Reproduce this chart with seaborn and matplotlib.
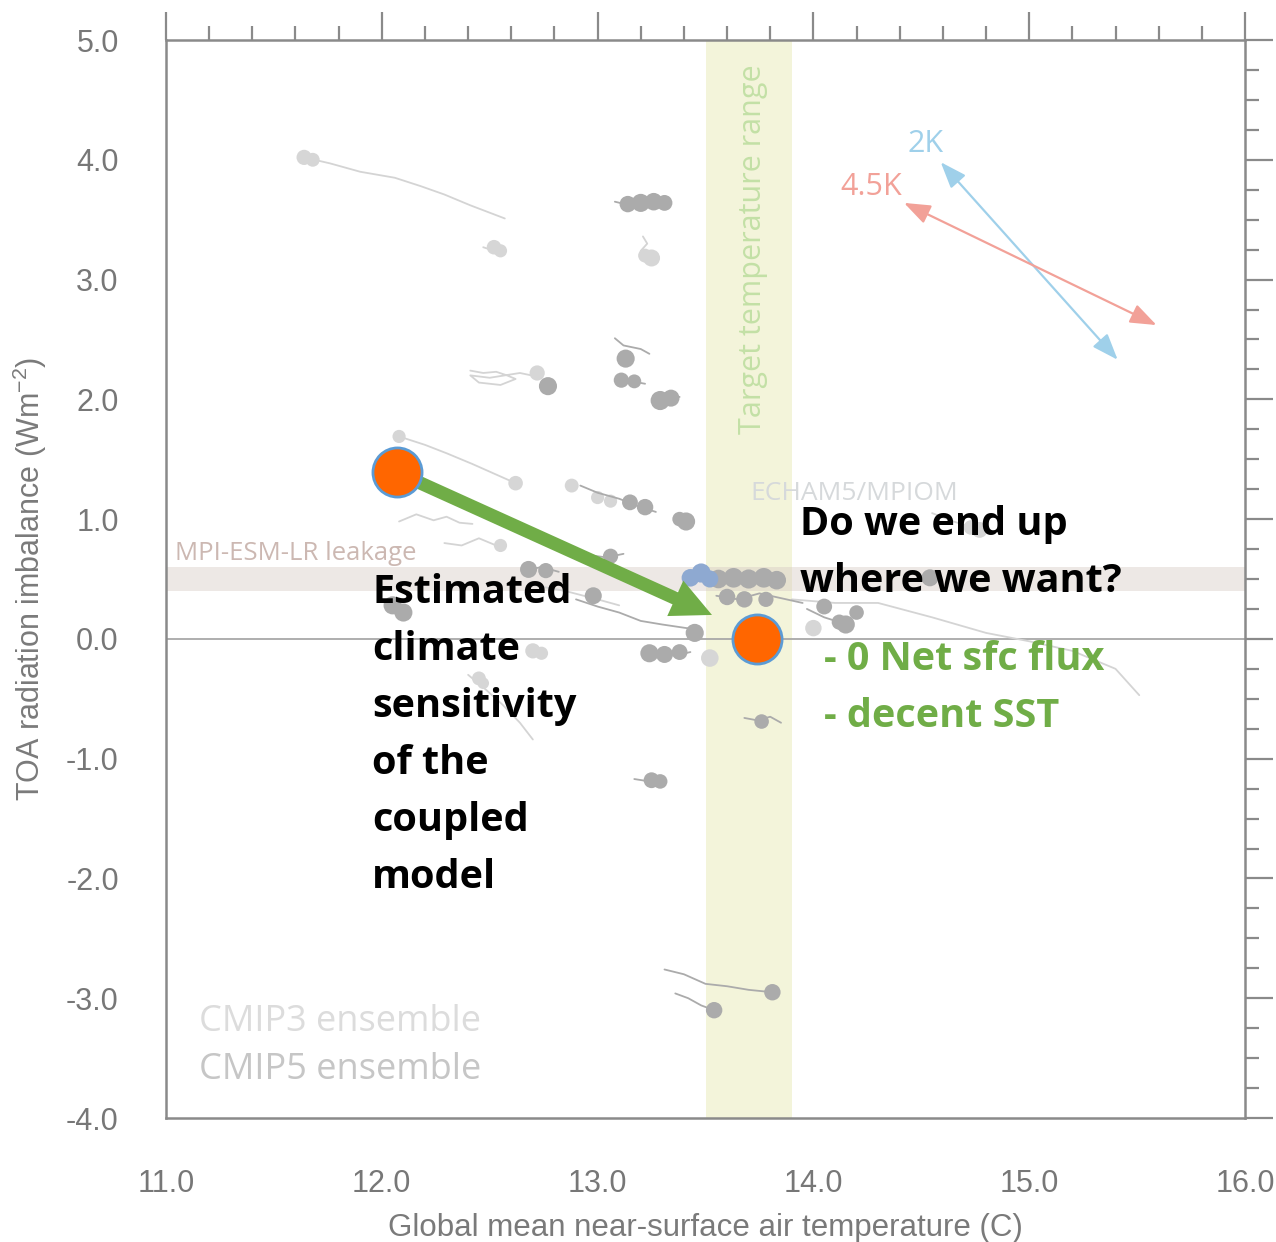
import numpy as np
import pandas as pd
import seaborn as sns
from matplotlib import pyplot as plt
from matplotlib.ticker import MultipleLocator

# ---- data ----
# CMIP3 ensemble: light grey trajectories (x = temperature, y = TOA imbalance)
cmip3_x = [
    [11.64, 11.76, 11.90, 12.06, 12.18, 12.29, 12.41, 12.57],
    [12.47, 12.52, 12.56],
    [13.21, 13.23, 13.20, 13.25, 13.27],
    [12.41, 12.47, 12.53, 12.58, 12.62, 12.55, 12.45, 12.41, 12.50, 12.64, 12.72],
    [12.08, 12.20, 12.30, 12.42, 12.52, 12.62],
    [12.08, 12.16, 12.24, 12.30, 12.36, 12.42],
    [12.29, 12.37, 12.45, 12.53, 12.56],
    [13.90, 14.10, 14.30, 14.55, 14.80, 15.00, 15.20, 15.40, 15.51],
    [14.55, 14.65, 14.77],
    [12.40, 12.48, 12.56, 12.64, 12.70],
    [12.70, 12.85, 13.00, 13.10],
]
cmip3_y = [
    [4.02, 3.97, 3.90, 3.85, 3.78, 3.71, 3.62, 3.51],
    [3.27, 3.24, 3.26],
    [3.36, 3.30, 3.24, 3.19, 3.17],
    [2.24, 2.22, 2.23, 2.20, 2.17, 2.12, 2.14, 2.20, 2.18, 2.22, 2.19],
    [1.69, 1.62, 1.55, 1.46, 1.38, 1.30],
    [0.98, 1.04, 0.99, 1.02, 0.97, 0.96],
    [0.80, 0.78, 0.84, 0.78, 0.77],
    [0.33, 0.30, 0.30, 0.18, 0.05, -0.02, -0.10, -0.25, -0.47],
    [1.05, 0.98, 0.91],
    [-0.30, -0.42, -0.55, -0.70, -0.84],
    [0.45, 0.40, 0.33, 0.28],
]
cmip3_blob_x = [11.64, 11.68, 12.52, 12.55, 13.25, 13.22, 12.72, 12.08, 12.62, 12.55, 14.77,
                14.73, 13.52, 12.45, 12.88, 13.00, 13.06, 12.70, 12.74, 14.00, 12.47]
cmip3_blob_y = [4.02, 4.00, 3.27, 3.24, 3.18, 3.20, 2.22, 1.69, 1.30, 0.78, 0.91,
                0.93, -0.16, -0.33, 1.28, 1.18, 1.15, -0.10, -0.12, 0.09, -0.37]
cmip3_blob_s = [120, 100, 110, 90, 150, 100, 120, 90, 110, 90, 130,
                110, 160, 100, 100, 90, 90, 120, 90, 140, 70]

# CMIP5 ensemble: darker grey trajectories
cmip5_x = [
    [13.08, 13.15, 13.22, 13.30, 13.34],
    [13.08, 13.12, 13.20, 13.24],
    [13.10, 13.16, 13.22],
    [13.27, 13.33, 13.38],
    [12.92, 13.00, 13.10, 13.20, 13.27],
    [12.66, 12.74, 12.82],
    [12.96, 13.04, 13.12],
    [13.55, 13.62, 13.70, 13.78, 13.86],
    [13.55, 13.65, 13.75, 13.85, 13.95],
    [12.90, 13.00, 13.10, 13.20, 13.30, 13.45],
    [13.22, 13.30, 13.38, 13.43],
    [13.68, 13.74, 13.80, 13.85],
    [13.17, 13.24, 13.31],
    [13.31, 13.40, 13.50, 13.60, 13.70, 13.81],
    [13.36, 13.42, 13.48, 13.54],
    [13.97, 14.05, 14.12, 14.18],
    [12.00, 12.06, 12.12],
]
cmip5_y = [
    [3.65, 3.62, 3.66, 3.63, 3.64],
    [2.51, 2.45, 2.42, 2.38],
    [2.17, 2.15, 2.13],
    [2.00, 2.03, 2.02],
    [1.28, 1.22, 1.17, 1.10, 1.06],
    [0.57, 0.60, 0.56],
    [0.70, 0.68, 0.71],
    [0.50, 0.52, 0.49, 0.51, 0.50],
    [0.36, 0.33, 0.38, 0.34, 0.30],
    [0.33, 0.27, 0.22, 0.15, 0.12, 0.08],
    [-0.12, -0.10, -0.13, -0.11],
    [-0.66, -0.68, -0.65, -0.70],
    [-1.17, -1.19, -1.18],
    [-2.76, -2.80, -2.88, -2.90, -2.93, -2.95],
    [-2.96, -3.00, -3.06, -3.10],
    [0.25, 0.18, 0.14, 0.10],
    [0.32, 0.25, 0.20],
]
cmip5_blob_x = [13.14, 13.20, 13.26, 13.31, 13.13, 13.11, 13.17, 13.29, 13.34, 12.77, 13.15,
                13.22, 13.41, 13.38, 12.68, 12.76, 13.06, 13.56, 13.63, 13.70, 13.77,
                13.83, 13.60, 13.68, 13.78, 13.45, 13.24, 13.31, 13.38, 13.76, 13.25,
                13.29, 13.81, 13.54, 14.15, 14.12, 14.54, 12.05, 12.10, 12.98, 14.05, 14.20]
cmip5_blob_y = [3.63, 3.64, 3.65, 3.64, 2.34, 2.16, 2.15, 1.99, 2.01, 2.11, 1.14,
                1.10, 0.98, 1.00, 0.58, 0.57, 0.69, 0.50, 0.51, 0.50, 0.51,
                0.49, 0.35, 0.33, 0.33, 0.05, -0.12, -0.13, -0.11, -0.69, -1.18,
                -1.19, -2.95, -3.10, 0.12, 0.14, 0.51, 0.28, 0.22, 0.36, 0.27, 0.22]
cmip5_blob_s = [140, 170, 160, 130, 170, 120, 100, 190, 150, 170, 130,
                140, 170, 110, 150, 120, 120, 180, 200, 190, 200,
                180, 140, 140, 120, 170, 170, 150, 130, 110, 130,
                110, 140, 140, 170, 120, 150, 170, 170, 150, 130, 110]

echam_x = [13.43, 13.48, 13.52]
echam_y = [0.51, 0.55, 0.50]
echam_s = [160, 190, 150]

target_range = [13.5, 13.9]
leakage_range = [0.4, 0.6]

# climate sensitivity arrows (tails and heads)
arrow_2k_x = [15.41, 14.59]
arrow_2k_y = [2.33, 3.98]
arrow_45k_x = [15.59, 14.42]
arrow_45k_y = [2.62, 3.64]

# orange markers: estimated sensitivity and where we want to end up
orange_x = [12.07, 13.74]
orange_y = [1.39, 0.00]
green_tip = [13.53, 0.20]

left_lines = ["Estimated", "climate", "sensitivity", "of the", "coupled", "model"]
right_lines = ["Do we end up", "where we want?"]
green_lines = ["- 0 Net sfc flux", "- decent SST"]


def tracks_frame(xs, ys, name):
    rows = []
    for i, (tx, ty) in enumerate(zip(xs, ys)):
        for x, y in zip(tx, ty):
            rows.append((f"{name}_{i}", x, y))
    return pd.DataFrame(rows, columns=["track", "x", "y"])


sns.set_style("white")
plt.rcParams['font.family'] = ['Liberation Sans', 'DejaVu Sans']
plt.rcParams['mathtext.fontset'] = 'custom'
plt.rcParams['mathtext.rm'] = 'Liberation Sans'

fig = plt.figure(figsize=(12.76, 12.42), dpi=100)
ax = fig.add_axes([166 / 1276, 124 / 1242, 1079 / 1276, 1078 / 1242])

ax.axvspan(*target_range, color='#f3f4da', zorder=0, lw=0)
ax.axhspan(*leakage_range, color='#d8ccc6', alpha=0.45, zorder=0.5, lw=0)
ax.axhline(0, color='#a8a8a8', lw=1.3, zorder=1)

df3 = tracks_frame(cmip3_x, cmip3_y, "c3")
df5 = tracks_frame(cmip5_x, cmip5_y, "c5")
sns.lineplot(data=df3, x="x", y="y", units="track", estimator=None, sort=False,
             color='#d4d4d4', lw=1.3, ax=ax, zorder=2)
sns.lineplot(data=df5, x="x", y="y", units="track", estimator=None, sort=False,
             color='#ababab', lw=1.3, ax=ax, zorder=3)
sns.scatterplot(x=cmip3_blob_x, y=cmip3_blob_y, s=cmip3_blob_s, color='#d6d6d6',
                edgecolor='none', ax=ax, zorder=2)
sns.scatterplot(x=cmip5_blob_x, y=cmip5_blob_y, s=cmip5_blob_s, color='#ababab',
                edgecolor='none', ax=ax, zorder=3)
sns.scatterplot(x=echam_x, y=echam_y, s=echam_s, color='#8ea9d1',
                edgecolor='none', ax=ax, zorder=3)

# 2K / 4.5K arrows
ax.annotate("", xy=(arrow_2k_x[1], arrow_2k_y[1]), xytext=(arrow_2k_x[0], arrow_2k_y[0]),
            arrowprops=dict(arrowstyle='<|-|>,head_length=0.8,head_width=0.3',
                            mutation_scale=20, color='#9fd0ea', lw=1.6,
                            shrinkA=0, shrinkB=0), zorder=4)
ax.annotate("", xy=(arrow_45k_x[1], arrow_45k_y[1]), xytext=(arrow_45k_x[0], arrow_45k_y[0]),
            arrowprops=dict(arrowstyle='<|-|>,head_length=0.8,head_width=0.3',
                            mutation_scale=20, color='#f2a198', lw=1.6,
                            shrinkA=0, shrinkB=0), zorder=4)
ax.text(14.52, 4.13, "2K", color='#9fd0ea', fontsize=22, family='Open Sans',
        ha='center', va='center')
ax.text(14.27, 3.77, "4.5K", color='#f2a198', fontsize=22, family='Open Sans',
        ha='center', va='center')

ax.text(13.72, 3.25, "Target temperature range", rotation=90, color='#c3e0a6',
        fontsize=22, family='Open Sans', ha='center', va='center')
ax.text(11.04, 0.71, "MPI-ESM-LR leakage", color='#ccb8b2', fontsize=18.5,
        family='Open Sans', ha='left', va='center')
ax.text(14.19, 1.21, "ECHAM5/MPIOM", color='#d6d9db', fontsize=19,
        family='Open Sans', ha='center', va='center')
ax.text(11.155, -3.2, "CMIP3 ensemble", color='#dcdcdc', fontsize=26,
        family='Open Sans', ha='left', va='center')
ax.text(11.155, -3.6, "CMIP5 ensemble", color='#c6c6c6', fontsize=26,
        family='Open Sans', ha='left', va='center')

# green arrow from estimate to target
ax.annotate("", xy=tuple(green_tip), xytext=(orange_x[0], orange_y[0]),
            arrowprops=dict(arrowstyle='simple,head_length=2.9,head_width=2.8,tail_width=0.95',
                            mutation_scale=10, color='#70ad47', lw=0,
                            shrinkA=0, shrinkB=0), zorder=5)
sns.scatterplot(x=orange_x, y=orange_y, s=1250, color='#ff6600', edgecolor='#5b9bd5',
                linewidth=2, ax=ax, zorder=6)

step = 57 / 119.8
bold_font = dict(fontsize=28.5, fontweight='bold', family='Open Sans',
                 va='baseline', ha='left', zorder=7)
for i, line in enumerate(left_lines):
    ax.text(11.955, 0.30 - i * step, line, color='black', **bold_font)
for i, line in enumerate(right_lines):
    ax.text(13.94, 0.868 - i * step, line, color='black', **bold_font)
for i, line in enumerate(green_lines):
    ax.text(14.05, -0.259 - i * step, line, color='#70ad47', **bold_font)

ax.set_xlim(11, 16)
ax.set_ylim(-4, 5)
ax.xaxis.set_major_locator(MultipleLocator(1.0))
ax.xaxis.set_minor_locator(MultipleLocator(0.2))
ax.yaxis.set_major_locator(MultipleLocator(1.0))
ax.yaxis.set_minor_locator(MultipleLocator(0.25))
ax.xaxis.set_major_formatter(lambda v, p: f"{v:.1f}")
ax.yaxis.set_major_formatter(lambda v, p: f"{v:.1f}")
ax.tick_params(which='both', direction='out', top=True, right=True,
               color='#8a8a8a', width=1.6)
ax.tick_params(which='major', length=20, labelsize=22, labelcolor='#777777', pad=14)
ax.tick_params(axis='x', which='major', pad=17)
ax.tick_params(which='minor', length=10)
for s in ax.spines.values():
    s.set_color('#8a8a8a')
    s.set_linewidth(1.8)

ax.set_xlabel("Global mean near-surface air temperature (C)", fontsize=22.5,
              color='#7a7a7a', labelpad=10)
ax.set_ylabel(r"TOA radiation imbalance (Wm$^{-2}$)", fontsize=22,
              color='#7a7a7a', labelpad=12)

fig.savefig("out.png", dpi=100)
